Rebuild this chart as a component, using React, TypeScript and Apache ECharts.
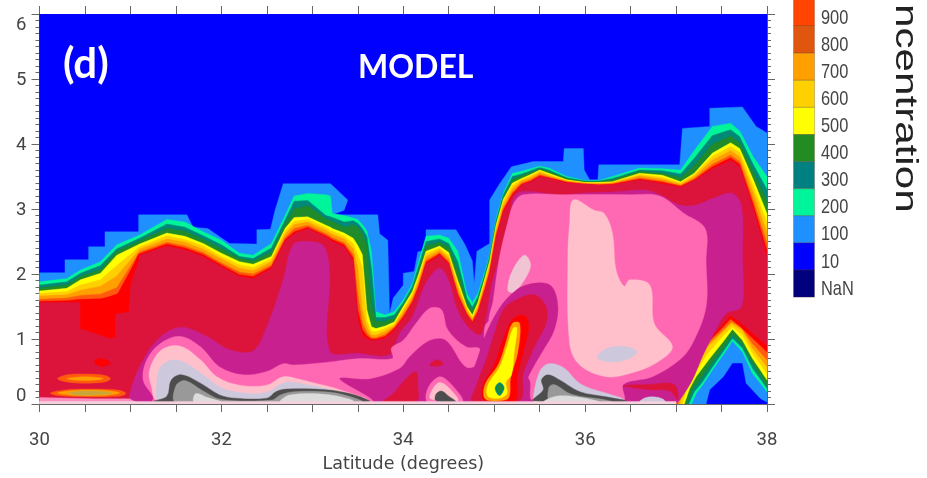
import React, { useEffect, useRef } from "react";
import * as echarts from "echarts";

type P = number[];
const legendLabels = ["900", "800", "700", "600", "500", "400", "300", "200", "100", "10", "NaN"];
const legendColors = ["#ff4500", "#e0560f", "#ff9f00", "#ffd000", "#ffff00", "#228b22", "#008080", "#00f59a", "#1e90ff", "#0000ff", "#00007f"];

const xTicks = [30, 38];
const yTicks = [0, 6];

const latRidge = [30,30.3,30.45,30.67,30.85,31.1,31.4,31.6,31.8,32,32.2,32.35,32.55,32.7,32.8,32.95,33.15,33.2,33.22,33.35,33.45,33.5,33.55,33.6,33.65,33.7,33.8,33.9,34,34.1,34.17,34.25,34.4,34.5,34.6,34.7,34.76,34.82,34.9,34.95,35.02,35.1,35.2,35.3,35.4,35.5,35.6,35.8,36,36.15,36.3,36.6,36.85,37.05,37.2,37.4,37.6,37.7,37.85,38];
const top200 = [1.88,1.93,2.06,2.19,2.45,2.6,2.84,2.8,2.65,2.52,2.32,2.29,2.47,2.9,3.2,3.24,3.22,3.2,2.93,2.9,2.86,2.84,2.76,2.66,2.35,1.42,1.37,1.42,1.6,1.85,2.2,2.58,2.6,2.55,2.35,1.7,1.56,1.7,2.05,2.3,2.85,3.25,3.55,3.58,3.62,3.66,3.63,3.5,3.44,3.44,3.5,3.63,3.62,3.6,3.9,4.27,4.32,4.2,3.8,3.5];
const top300 = [1.83,1.88,2.01,2.13,2.39,2.55,2.77,2.72,2.59,2.45,2.27,2.24,2.4,2.83,3.12,3.13,2.9,2.88,2.87,2.8,2.82,2.78,2.7,2.58,2.1,1.33,1.33,1.37,1.56,1.81,2.13,2.5,2.54,2.47,2.19,1.63,1.49,1.65,2.01,2.27,2.82,3.22,3.5,3.54,3.59,3.64,3.6,3.48,3.43,3.43,3.47,3.6,3.59,3.54,3.78,4.13,4.22,4.11,3.68,3.3];
const top400 = [1.79,1.83,1.96,2.07,2.35,2.51,2.7,2.66,2.53,2.39,2.24,2.2,2.34,2.77,3,3.05,2.85,2.82,2.81,2.72,2.75,2.72,2.62,2.45,1.55,1.27,1.27,1.32,1.53,1.77,2.07,2.43,2.49,2.41,2.06,1.57,1.44,1.61,1.98,2.24,2.78,3.18,3.45,3.51,3.56,3.62,3.58,3.47,3.42,3.42,3.45,3.58,3.55,3.48,3.67,4,4.12,4.02,3.57,3.13];
const top500 = [1.74,1.78,1.91,2.01,2.29,2.46,2.63,2.58,2.47,2.32,2.19,2.15,2.27,2.7,2.87,2.88,2.75,2.72,2.7,2.63,2.55,2.44,2.3,1.45,1.19,1.16,1.2,1.26,1.5,1.73,2,2.35,2.43,2.33,1.9,1.5,1.37,1.56,1.95,2.2,2.75,3.15,3.4,3.47,3.53,3.6,3.55,3.45,3.41,3.41,3.42,3.55,3.52,3.42,3.55,3.86,4.02,3.93,3.45,2.93];
const top600 = [1.7,1.73,1.83,1.91,2.13,2.42,2.59,2.53,2.43,2.27,2.14,2.1,2.23,2.66,2.81,2.84,2.71,2.67,2.66,2.58,2.47,2.3,2.1,1.28,1.12,1.11,1.16,1.23,1.46,1.69,1.95,2.31,2.4,2.29,1.84,1.47,1.34,1.52,1.91,2.16,2.71,3.11,3.36,3.45,3.51,3.58,3.53,3.44,3.4,3.4,3.41,3.53,3.49,3.4,3.53,3.81,3.96,3.87,3.35,2.78];
const top700 = [1.66,1.68,1.75,1.81,1.97,2.38,2.54,2.49,2.38,2.23,2.09,2.05,2.19,2.61,2.76,2.8,2.67,2.63,2.61,2.54,2.39,2.1,1.45,1.18,1.06,1.06,1.12,1.2,1.42,1.65,1.9,2.26,2.37,2.25,1.79,1.44,1.31,1.49,1.86,2.11,2.66,3.06,3.31,3.43,3.48,3.56,3.51,3.43,3.4,3.39,3.4,3.51,3.46,3.38,3.5,3.75,3.9,3.8,3.25,2.63];
const top900 = [1.61,1.63,1.67,1.69,1.79,2.34,2.49,2.43,2.33,2.17,2.03,2,2.14,2.56,2.7,2.75,2.62,2.58,2.56,2.48,2.3,1.7,1.25,1.1,1.02,1.02,1.07,1.18,1.37,1.6,1.85,2.21,2.33,2.2,1.72,1.4,1.28,1.45,1.81,2.06,2.61,3.01,3.26,3.4,3.45,3.53,3.49,3.42,3.39,3.38,3.39,3.48,3.43,3.36,3.47,3.69,3.83,3.73,3.13,2.47];
const topRed = [1.58,1.59,1.61,1.62,1.67,2.31,2.46,2.4,2.3,2.14,1.99,1.96,2.11,2.53,2.65,2.72,2.59,2.55,2.53,2.45,2.25,1.45,1.15,1.05,1,1,1.04,1.16,1.34,1.57,1.81,2.18,2.31,2.17,1.68,1.38,1.26,1.42,1.78,2.03,2.58,2.98,3.23,3.38,3.43,3.51,3.48,3.41,3.38,3.37,3.38,3.46,3.41,3.35,3.45,3.65,3.79,3.69,3.06,2.36];
const topCrimson = [1.56,1.56,1.56,1.56,1.58,2.29,2.43,2.37,2.27,2.11,1.96,1.93,2.09,2.5,2.62,2.7,2.57,2.52,2.5,2.42,2.2,1.3,1.06,1,0.98,0.98,1.01,1.14,1.32,1.55,1.78,2.15,2.29,2.15,1.65,1.36,1.24,1.4,1.75,2,2.55,2.95,3.2,3.37,3.42,3.5,3.47,3.4,3.38,3.37,3.37,3.45,3.39,3.34,3.44,3.62,3.75,3.65,3,2.27];

const outline100: P[] = [[30,2.02],[30.28,2.02],[30.28,2.22],[30.54,2.22],[30.54,2.42],[30.72,2.42],[30.72,2.65],[31.09,2.65],[31.09,2.91],[31.62,2.91],[31.69,2.72],[31.85,2.7],[32.09,2.47],[32.39,2.46],[32.39,2.68],[32.54,2.69],[32.59,2.98],[32.68,3.39],[33.2,3.39],[33.39,3.14],[33.35,2.98],[33.22,2.91],[33.72,2.91],[33.74,2.62],[33.83,2.52],[33.85,1.39],[33.89,1.63],[34,1.83],[34,2.01],[34.12,2.04],[34.16,2.34],[34.25,2.37],[34.25,2.68],[34.58,2.68],[34.68,2.45],[34.76,2.2],[34.78,1.85],[34.81,2.35],[34.95,2.47],[34.95,3.14],[35.06,3.39],[35.19,3.65],[35.43,3.73],[35.76,3.73],[35.77,3.93],[35.98,3.93],[35.99,3.6],[36.05,3.45],[36.14,3.45],[36.15,3.68],[37.04,3.68],[37.07,4.24],[37.37,4.27],[37.37,4.55],[37.73,4.57],[37.88,4.27],[38,4.17]];

const hole100: P[] = [[38,0.03],[37.93,0.08],[37.77,0.32],[37.73,0.63],[37.62,0.63],[37.52,0.42],[37.37,0.22],[37.33,0]];
const hole200: P[] = [[38,0.19],[37.84,0.47],[37.73,0.8],[37.62,0.97],[37.53,0.78],[37.4,0.52],[37.29,0.29],[37.22,0.16],[37.17,0]];
const hole300: P[] = [[38,0.24],[37.84,0.55],[37.73,0.86],[37.62,1.01],[37.53,0.83],[37.4,0.57],[37.28,0.32],[37.2,0.19],[37.14,0]];
const hole400: P[] = [[38,0.29],[37.84,0.63],[37.73,0.91],[37.62,1.06],[37.53,0.88],[37.39,0.63],[37.26,0.37],[37.18,0.22],[37.12,0]];
const hole500: P[] = [[38,0.37],[37.84,0.7],[37.73,0.98],[37.62,1.15],[37.53,0.98],[37.37,0.7],[37.22,0.42],[37.15,0.24],[37.09,0]];
const hole600: P[] = [[38,0.47],[37.84,0.78],[37.73,1.06],[37.62,1.19],[37.51,1.04],[37.35,0.78],[37.2,0.47],[37.12,0.27],[37.07,0]];
const hole700: P[] = [[38,0.57],[37.84,0.86],[37.73,1.13],[37.61,1.24],[37.5,1.09],[37.33,0.86],[37.18,0.52],[37.09,0.29],[37.04,0]];
const hole900: P[] = [[38,0.68],[37.84,0.93],[37.72,1.17],[37.61,1.27],[37.5,1.12],[37.31,0.87],[37.16,0.52],[37.07,0.28],[37.02,0]];
const holeRed: P[] = [[38,0.8],[37.85,1],[37.7,1.2],[37.6,1.31],[37.5,1.16],[37.3,0.88],[37.15,0.52],[37.05,0.28],[37,0]];
const holeCrimson: P[] = [[38,0.9],[37.85,1.08],[37.7,1.26],[37.6,1.36],[37.5,1.2],[37.29,0.9],[37.14,0.53],[37.03,0.28],[36.98,0]];

const bgBand: P[] = [[30,0],[30,6],[38,6],[38,0]];
const redBlobLeft: P[] = [[30.45,1.57],[30.45,1.16],[30.61,1.09],[30.78,1.01],[30.83,1.03],[30.83,1.39],[30.98,1.42],[31,1.86],[31.09,2.2],[31.09,2.31],[30.9,1.72],[30.67,1.6]];
const redSpot: P[] = [[30.6,0.65],[30.68,0.7],[30.78,0.63],[30.68,0.58]];
const ovalTopOuter: P[] = [[30.2,0.39],[30.3,0.45],[30.5,0.46],[30.72,0.44],[30.78,0.39],[30.72,0.34],[30.5,0.32],[30.3,0.34]];
const ovalTopInner: P[] = [[30.3,0.39],[30.5,0.42],[30.7,0.39],[30.5,0.36]];
const ovalLowOuter: P[] = [[30.12,0.17],[30.3,0.22],[30.6,0.23],[30.88,0.21],[30.95,0.16],[30.88,0.12],[30.5,0.11],[30.2,0.13]];
const ovalLowMid: P[] = [[30.2,0.17],[30.4,0.21],[30.7,0.21],[30.88,0.17],[30.7,0.13],[30.4,0.13]];
const ovalLowInner: P[] = [[30.32,0.17],[30.5,0.2],[30.72,0.19],[30.8,0.16],[30.6,0.14],[30.4,0.14]];
const bottomStrip: P[] = [[30,0.1],[30.6,0.08],[31.1,0.08],[31.3,0.12],[31.4,0],[30,0]];
const bottomEdge: P[] = [[30,0],[30,0.04],[37,0.04],[37,0]];

const violetMain: P[] = [[31,0.08],[31.01,0.24],[31.1,0.57],[31.29,0.98],[31.55,1.18],[31.84,1.04],[32.1,0.83],[32.35,0.82],[32.5,1.19],[32.68,1.91],[32.79,2.45],[32.97,2.5],[33.13,2.42],[33.19,2.01],[33.19,0.82],[33.5,0.78],[33.85,0.76],[33.96,1.09],[34.1,1.34],[34.25,1.86],[34.4,2.09],[34.51,1.86],[34.58,1.5],[34.69,1.22],[34.84,1.06],[34.9,1.24],[34.97,1.81],[35.06,2.27],[35.17,2.88],[35.22,3.19],[35.32,3.27],[35.57,3.24],[35.76,3.21],[35.94,3.24],[36.3,3.26],[36.67,3.29],[36.85,3.2],[37.04,3.06],[37.22,3.06],[37.4,3.16],[37.62,3.24],[37.72,3.04],[37.73,2.27],[37.72,1.5],[37.55,1.39],[37.4,1.04],[37.29,0.73],[37.18,0.37],[37.04,0.06],[37,0.02],[31.2,0.02]];
const hotLeft: P[] = [[31.25,0.11],[31.14,0.37],[31.18,0.68],[31.33,0.93],[31.55,1.04],[31.77,0.88],[31.98,0.57],[32.24,0.45],[32.5,0.5],[32.68,0.62],[32.79,0.6],[33.15,0.64],[33.52,0.7],[33.88,0.7],[33.87,0.86],[34,0.98],[34.14,1.24],[34.29,1.47],[34.42,1.45],[34.49,1.14],[34.69,0.88],[34.84,0.85],[34.84,0.63],[34.69,0.57],[34.47,0.98],[34.29,0.98],[34.07,0.73],[33.96,0.55],[33.63,0.39],[33.3,0.39],[33.65,0.03],[31.25,0.03]];
const hotRight: P[] = [[34.95,1.2],[34.99,1.6],[35.06,2.27],[35.15,2.8],[35.22,3.1],[35.32,3.22],[35.76,3.22],[36.5,3.22],[36.82,3.2],[37.08,2.94],[37.32,2.7],[37.33,2.2],[37.33,1.5],[37.18,0.93],[37.04,0.68],[36.74,0.42],[36.42,0.3],[36.42,0.05],[35.43,0.05],[35.39,0.37],[35.25,0.6]];
const hotSpeck: P[] = [[34.9,0.98],[34.9,1.2],[34.95,1.27],[34.97,1.05]];
const hotBump: P[] = [[34.27,0.03],[34.27,0.24],[34.4,0.42],[34.53,0.3],[34.65,0.03]];
const pinkLeft: P[] = [[31.3,0.05],[31.23,0.27],[31.21,0.52],[31.34,0.83],[31.55,0.89],[31.77,0.68],[31.95,0.42],[32.2,0.29],[32.5,0.29],[32.68,0.42],[32.86,0.38],[33,0.33],[33.3,0.22],[33.6,0.05]];
const lavLeft: P[] = [[31.32,0.05],[31.29,0.32],[31.33,0.57],[31.47,0.68],[31.62,0.62],[31.8,0.45],[32,0.25],[32.25,0.17],[32.5,0.18],[32.7,0.33],[33,0.28],[33.3,0.18],[33.57,0.05]];
const darkLeft: P[] = [[31.25,0.04],[31.4,0.12],[31.45,0.37],[31.56,0.45],[31.77,0.32],[31.98,0.14],[32.15,0.09],[32.5,0.09],[32.6,0.19],[32.72,0.23],[33.15,0.22],[33.41,0.16],[33.63,0.05],[33.6,0.03],[31.3,0.03]];
const midLeft: P[] = [[31.5,0.03],[31.5,0.28],[31.6,0.36],[31.8,0.2],[32.0,0.07],[32.55,0.06],[32.65,0.14],[32.8,0.19],[33.2,0.18],[33.45,0.1],[33.55,0.03]];
const lightLeft: P[] = [[31.7,0.03],[31.72,0.16],[31.85,0.1],[32,0.03]];
const lightLeft2: P[] = [[32.65,0.03],[32.75,0.14],[33.2,0.14],[33.45,0.04]];
const pinkBump: P[] = [[34.3,0.08],[34.32,0.22],[34.4,0.33],[34.5,0.25],[34.6,0.05]];
const darkBump: P[] = [[34.36,0.05],[34.36,0.15],[34.42,0.2],[34.5,0.12],[34.58,0.03]];
const pinkBig: P[] = [[35.87,3.14],[36.1,2.98],[36.21,2.93],[36.3,2.63],[36.34,2.06],[36.43,1.81],[36.49,1.91],[36.71,1.83],[36.76,1.24],[36.96,0.88],[36.78,0.63],[36.49,0.47],[36.23,0.42],[35.94,0.6],[35.83,0.93],[35.81,2.27],[35.83,2.78]];
const lavBig: P[] = [[36.13,0.72],[36.25,0.86],[36.45,0.88],[36.57,0.8],[36.45,0.68],[36.25,0.65]];
const pinkSmall: P[] = [[35.15,1.75],[35.2,2.05],[35.33,2.29],[35.4,2.15],[35.35,1.95],[35.22,1.72]];
const jetHalo: P[] = [[34.73,0.03],[34.84,0.8],[35.02,1.39],[35.24,1.75],[35.46,1.86],[35.63,1.81],[35.7,1.5],[35.66,1.14],[35.54,0.83],[35.43,0.57],[35.35,0.32],[35.35,0.03]];
const jetCrimson: P[] = [[34.76,0.03],[34.8,0.27],[34.91,0.68],[34.98,0.98],[35.1,1.45],[35.24,1.6],[35.44,1.68],[35.57,1.5],[35.57,1.24],[35.46,0.93],[35.32,0.47],[35.28,0.05]];
const jetRed: P[] = [[34.9,0.05],[34.87,0.25],[35,0.6],[35.1,1],[35.2,1.3],[35.33,1.36],[35.38,1.2],[35.32,0.8],[35.25,0.4],[35.23,0.05]];
const jetOrange: P[] = [[34.9,0.08],[34.9,0.3],[35.05,0.62],[35.13,0.95],[35.2,1.24],[35.28,1.24],[35.26,0.8],[35.18,0.4],[35.16,0.1],[35.05,0.05]];
const jetYellow: P[] = [[34.93,0.12],[34.93,0.29],[35.06,0.57],[35.14,0.88],[35.21,1.17],[35.25,1.17],[35.22,0.8],[35.19,0.45],[35.13,0.34],[35.14,0.16],[35.06,0.09]];
const jetSpotTeal: P[] = [[35.01,0.24],[35.06,0.33],[35.11,0.25],[35.06,0.13]];
const jetSpotGreen: P[] = [[35.03,0.24],[35.06,0.3],[35.09,0.25],[35.06,0.17]];
const crimsonPatch: P[] = [[33.78,0.03],[33.89,0.16],[34.03,0.39],[34.14,0.5],[34.16,0.32],[34.14,0.03]];
const crimsonSpot: P[] = [[34.29,0.6],[34.37,0.68],[34.44,0.62],[34.37,0.58]];
const crimsonSliver: P[] = [[36.42,0.28],[36.7,0.3],[36.98,0.3],[37.02,0.06],[36.93,0.2],[36.7,0.22]];
const lavRight: P[] = [[35.43,0.1],[35.5,0.5],[35.6,0.62],[35.76,0.56],[35.96,0.3],[36.42,0.08],[36.42,0.03],[35.45,0.03]];
const darkRight: P[] = [[35.43,0.05],[35.54,0.22],[35.52,0.37],[35.59,0.45],[35.72,0.37],[35.94,0.19],[36.23,0.11],[36.45,0.05],[36.4,0.03]];
const midRight: P[] = [[35.62,0.03],[35.6,0.25],[35.66,0.3],[35.85,0.15],[36.2,0.07],[36.3,0.03]];
const lightRight: P[] = [[35.55,0.03],[35.68,0.12],[35.9,0.11],[36.15,0.03]];
const lavBottom: P[] = [[36.6,0.03],[36.65,0.09],[36.75,0.11],[36.85,0.08],[36.88,0.03]];

const zipTop = (lat: number[], alt: number[]): P[] => lat.map((v, i) => [v, alt[i]]);
const ridge = (top: number[], hole: P[]): P[] => [...zipTop(latRidge, top), ...hole, [30, 0]];

const C = {
  blue: "#0000ff", dodger: "#1e90ff", spring: "#00f59a", teal: "#008878", forest: "#1f8b2a",
  yellow: "#ffff00", gold: "#ffd000", orange: "#ffa000", orangeRed: "#ff5a0e", red: "#ff0000",
  crimson: "#dc143c", violet: "#c8208e", hot: "#ff69b4", pink: "#ffc0cb", lav: "#cdc8dc",
  dark: "#4d4d4d", mid: "#999999", light: "#dcdcdc",
};

const bands: { fill: string; pts: P[]; sharp?: boolean }[] = [
  { fill: C.blue, pts: bgBand, sharp: true },
  { fill: C.dodger, pts: [...outline100, ...hole100, [30, 0]], sharp: true },
  { fill: C.spring, pts: ridge(top200, hole200), sharp: true },
  { fill: C.teal, pts: ridge(top300, hole300), sharp: true },
  { fill: C.forest, pts: ridge(top400, hole400), sharp: true },
  { fill: C.yellow, pts: ridge(top500, hole500), sharp: true },
  { fill: C.gold, pts: ridge(top600, hole600), sharp: true },
  { fill: C.orange, pts: ridge(top700, hole700), sharp: true },
  { fill: C.orangeRed, pts: ridge(top900, hole900), sharp: true },
  { fill: C.red, pts: ridge(topRed, holeRed), sharp: true },
  { fill: C.crimson, pts: ridge(topCrimson, holeCrimson), sharp: true },
  { fill: C.red, pts: redBlobLeft, sharp: true },
  { fill: C.red, pts: redSpot },
  { fill: C.orangeRed, pts: ovalTopOuter },
  { fill: C.orange, pts: ovalTopInner },
  { fill: C.orangeRed, pts: ovalLowOuter },
  { fill: C.orange, pts: ovalLowMid },
  { fill: "#c8a63c", pts: ovalLowInner },
  { fill: "#ff8ec0", pts: bottomStrip, sharp: true },
  { fill: C.violet, pts: violetMain },
  { fill: C.hot, pts: hotLeft },
  { fill: C.hot, pts: hotRight },
  { fill: C.hot, pts: hotSpeck },
  { fill: C.crimson, pts: crimsonPatch },
  { fill: C.crimson, pts: crimsonSpot },
  { fill: C.crimson, pts: crimsonSliver },
  { fill: C.hot, pts: hotBump },
  { fill: C.pink, pts: pinkBump },
  { fill: C.dark, pts: darkBump },
  { fill: C.pink, pts: pinkLeft },
  { fill: C.lav, pts: lavLeft },
  { fill: C.dark, pts: darkLeft },
  { fill: C.mid, pts: midLeft },
  { fill: C.light, pts: lightLeft },
  { fill: C.light, pts: lightLeft2 },
  { fill: C.pink, pts: pinkBig },
  { fill: C.lav, pts: lavBig },
  { fill: "#f0c4d2", pts: pinkSmall },
  { fill: C.violet, pts: jetHalo },
  { fill: C.crimson, pts: jetCrimson },
  { fill: C.red, pts: jetRed },
  { fill: C.orange, pts: jetOrange },
  { fill: C.yellow, pts: jetYellow },
  { fill: C.teal, pts: jetSpotTeal },
  { fill: C.forest, pts: jetSpotGreen },
  { fill: C.lav, pts: lavRight },
  { fill: C.dark, pts: darkRight },
  { fill: C.mid, pts: midRight },
  { fill: C.light, pts: lightRight },
  { fill: C.lav, pts: lavBottom },
  { fill: "#f6d2de", pts: bottomEdge, sharp: true },
];

const tickFont = "Roboto, sans-serif";
const axisGrey = "#666666";

export default function App() {
  const ref = useRef<HTMLDivElement>(null);
  useEffect(() => {
    document.body.style.margin = "0";
    const chart = echarts.init(ref.current!, undefined, { renderer: "svg" });
    const commonLine = { show: true, onZero: false, lineStyle: { color: axisGrey, width: 1 } };
    const xTick = { show: true, length: 8, lineStyle: { color: axisGrey } };
    const xMinor = { show: true, splitNumber: 4, length: 8, lineStyle: { color: axisGrey } };
    const yTick = { show: true, length: 8, lineStyle: { color: axisGrey } };
    const yMinor = { show: true, splitNumber: 10, length: 4, lineStyle: { color: axisGrey } };
    const legendItems: any[] = [];
    legendLabels.forEach((label, i) => {
      const top = -1 + i * 27.1;
      legendItems.push({ type: "rect", z: 100, shape: { x: 793.5, y: top, width: 21, height: 27.1 }, style: { fill: legendColors[i], stroke: "#5a3a20", lineWidth: 0.3 } });
      legendItems.push({ type: "text", z: 100, x: 821, y: top + 17.5, scaleX: 0.82, style: { text: label, font: '20px "Liberation Sans"', fill: "#444444", verticalAlign: "middle" } });
    });
    chart.setOption({
      animation: false,
      backgroundColor: "#ffffff",
      grid: { left: 39.5, right: 160, top: 14, bottom: 74, containLabel: false },
      xAxis: [
        {
          type: "value", min: xTicks[0], max: xTicks[1], interval: 2, position: "bottom",
          axisLine: commonLine, axisTick: xTick, minorTick: xMinor, splitLine: { show: false },
          axisLabel: { margin: 25, fontFamily: tickFont, fontSize: 18.5, color: "#444444" },
          name: "Latitude (degrees)", nameLocation: "middle", nameGap: 50,
          nameTextStyle: { fontFamily: '"DejaVu Sans"', fontSize: 17.5, color: "#444444" },
        },
        {
          type: "value", min: xTicks[0], max: xTicks[1], interval: 2, position: "top",
          axisLine: commonLine, axisTick: xTick, minorTick: xMinor, splitLine: { show: false },
          axisLabel: { show: false },
        },
      ],
      yAxis: [
        {
          type: "value", min: yTicks[0], max: yTicks[1], interval: 1, position: "left",
          axisLine: commonLine, axisTick: yTick, minorTick: yMinor, splitLine: { show: false },
          axisLabel: { margin: 13, fontFamily: tickFont, fontSize: 18.5, color: "#444444", verticalAlignMinLabel: "bottom", verticalAlignMaxLabel: "top" },
        },
        {
          type: "value", min: yTicks[0], max: yTicks[1], interval: 1, position: "right",
          axisLine: commonLine, axisTick: yTick, minorTick: yMinor, splitLine: { show: false },
          axisLabel: { show: false },
        },
      ],
      series: [
        {
          type: "custom", xAxisIndex: 0, yAxisIndex: 0, clip: true, silent: true,
          data: bands.map((_, i) => [i]),
          encode: { x: -1, y: -1 },
          renderItem: (params: any, api: any) => {
            const b = bands[params.dataIndex];
            return {
              type: "polygon",
              shape: { points: b.pts.map((p) => api.coord(p)), smooth: b.sharp ? 0 : 0.35 },
              style: { fill: b.fill, stroke: b.fill, lineWidth: 0.4 },
            };
          },
        },
      ],
      graphic: {
        elements: [
          { type: "text", z: 100, x: 63, y: 62, style: { text: "(d)", font: "bold 42px Lato", fill: "#ffffff", verticalAlign: "middle" } },
          { type: "text", z: 100, x: 358, y: 65, style: { text: "MODEL", font: "bold 32px Lato", fill: "#ffffff", verticalAlign: "middle" } },
          { type: "text", z: 100, x: 891, y: 4, rotation: -Math.PI / 2, scaleX: 1.36, style: { text: "ncentration", font: '31px "Liberation Sans"', fill: "#222222", verticalAlign: "bottom" } },
          ...legendItems,
        ],
      },
    });
    return () => chart.dispose();
  }, []);
  return <div ref={ref} style={{ position: "absolute", left: 0, top: 0, width: 927, height: 478, filter: "blur(0.6px)" }} />;
}
